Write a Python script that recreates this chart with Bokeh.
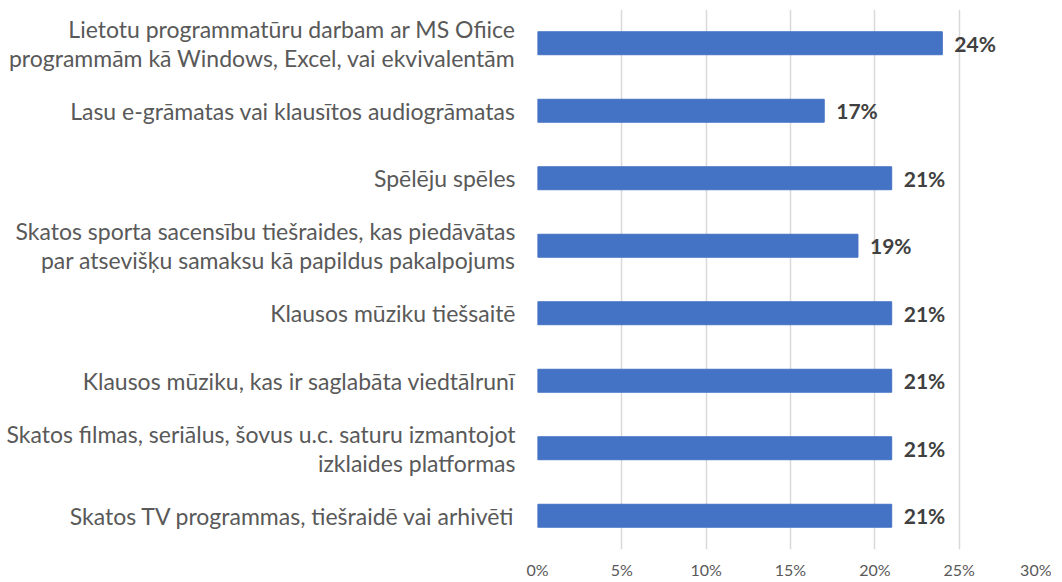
from bokeh.plotting import figure
from bokeh.models import ColumnDataSource, FactorRange, NumeralTickFormatter, FixedTicker
from bokeh.core.properties import value
from bokeh.embed import file_html
from bokeh.resources import INLINE

categories = [
    "Lietotu programmatūru darbam ar MS Ofiice\nprogrammām kā Windows, Excel, vai ekvivalentām",
    "Lasu e-grāmatas vai klausītos audiogrāmatas",
    "Spēlēju spēles",
    "Skatos sporta sacensību tiešraides, kas piedāvātas\npar atsevišķu samaksu kā papildus pakalpojums",
    "Klausos mūziku tiešsaitē",
    "Klausos mūziku, kas ir saglabāta viedtālrunī",
    "Skatos filmas, seriālus, šovus u.c. saturu izmantojot\nizklaides platformas",
    "Skatos TV programmas, tiešraidē vai arhivēti",
]
values = [0.24, 0.17, 0.21, 0.19, 0.21, 0.21, 0.21, 0.21]
labels = ["24%", "17%", "21%", "19%", "21%", "21%", "21%", "21%"]
x_ticks = [0, 0.05, 0.10, 0.15, 0.20, 0.25, 0.30]

src = ColumnDataSource(dict(cat=categories, val=values, lab=labels))

p = figure(
    width=1051, height=581,
    y_range=FactorRange(*reversed(categories), range_padding=0),
    x_range=(0, 0.30),
    output_backend="svg", toolbar_location=None,
    min_border_left=537, min_border_right=8, min_border_top=9, min_border_bottom=20,
)
p.outline_line_color = None
p.background_fill_color = "white"

p.hbar(y="cat", right="val", height=0.34, left=0, source=src,
       fill_color="#4472C4", line_color="#4472C4")
p.text(x="val", y="cat", text="lab", source=src, x_offset=12,
       text_baseline="middle", text_align="left",
       text_font=value("Lato"), text_font_style="bold",
       text_font_size="21px", text_color="#404040")

p.xgrid.grid_line_color = "#d9d9d9"
p.xgrid.grid_line_width = 1.5
p.xgrid.ticker = FixedTicker(ticks=x_ticks)
p.ygrid.grid_line_color = None

p.xaxis.ticker = FixedTicker(ticks=x_ticks)
p.xaxis.formatter = NumeralTickFormatter(format="0%")
p.xaxis.axis_line_color = None
p.xaxis.major_tick_line_color = None
p.xaxis.major_tick_out = 0
p.xaxis.major_tick_in = 0
p.xaxis.minor_tick_line_color = None
p.xaxis.major_label_text_font = "Lato"
p.xaxis.major_label_text_font_size = "16px"
p.xaxis.major_label_text_color = "#595959"
p.xaxis.major_label_standoff = 10

p.yaxis.axis_line_color = None
p.yaxis.major_tick_line_color = None
p.yaxis.major_tick_out = 0
p.yaxis.major_tick_in = 0
p.yaxis.minor_tick_line_color = None
p.yaxis.major_label_text_font = "Lato"
p.yaxis.major_label_text_font_size = "23px"
p.yaxis.major_label_text_color = "#595959"
p.yaxis.major_label_text_line_height = 1.05
p.yaxis.major_label_standoff = 22

open("out.html", "w").write(file_html(p, INLINE))
